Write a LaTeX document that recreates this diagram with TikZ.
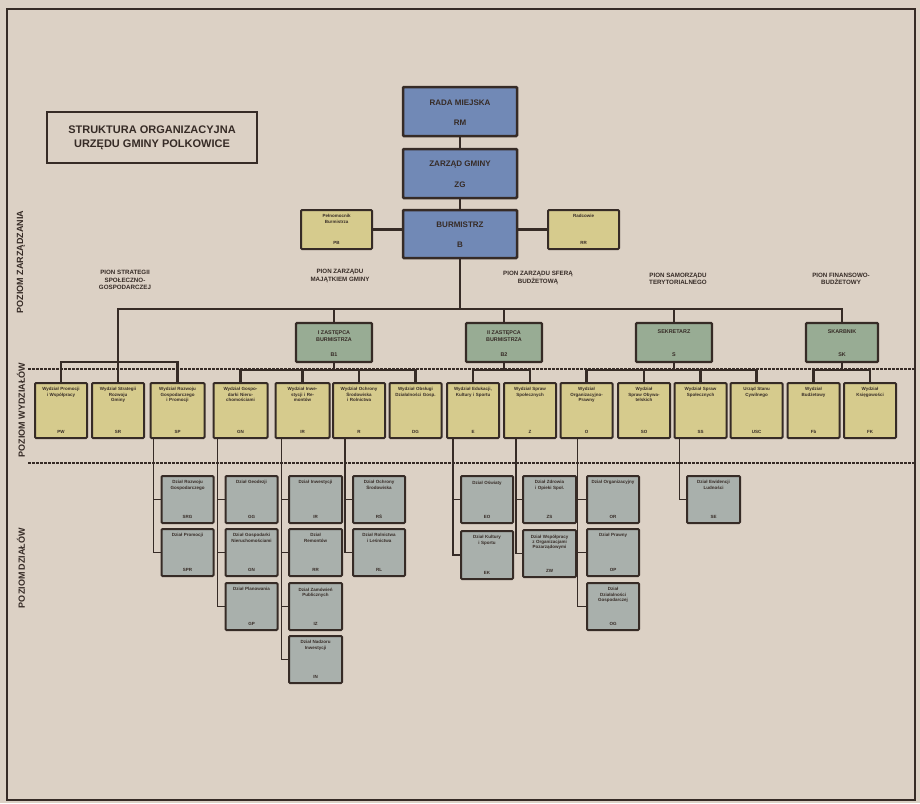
\documentclass[tikz,border=0pt]{standalone}
\usepackage{fontspec}
\setmainfont{Liberation Sans}
\definecolor{paper}{HTML}{DCD1C5}
\definecolor{ink}{HTML}{362B26}
\definecolor{bluefill}{HTML}{7189B6}
\definecolor{yelfill}{HTML}{D6CB8D}
\definecolor{grnfill}{HTML}{98AC94}
\definecolor{greyfill}{HTML}{A9B0AC}
\newcommand\obox[8]{%
  \node[#6, minimum width=#4pt, minimum height=#5pt] (#1) at (#2,#3) {};
  \node[smalltxt, anchor=north] (#1n) at ([yshift=-5.5pt]#1.north) {#7};
  \node[smalltxt, anchor=south] (#1c) at ([yshift=5pt]#1.south) {#8};
}
\begin{document}
\begin{tikzpicture}[x=1pt,y=-1pt,
  boxbase/.style={draw=ink, line width=2pt, rounded corners=1pt, inner sep=0pt},
  bluebox/.style={boxbase, fill=bluefill, line width=2.5pt},
  yelbox/.style={boxbase, fill=yelfill},
  grnbox/.style={boxbase, fill=grnfill, line width=2.3pt},
  greybox/.style={boxbase, fill=greyfill},
  smalltxt/.style={font=\bfseries\fontsize{4.5}{5.3}\selectfont, text=ink, align=center, inner sep=0pt, text width=49pt},
  bigtxt/.style={font=\bfseries\fontsize{8}{9}\selectfont, text=ink, align=center, inner sep=0pt},
  midtxt/.style={font=\bfseries\fontsize{5.4}{6.4}\selectfont, text=ink, align=center, inner sep=0pt},
  piontxt/.style={font=\bfseries\fontsize{6.2}{7.6}\selectfont, text=ink, align=center, inner sep=0pt},
  sidetxt/.style={font=\bfseries\fontsize{9}{10}\selectfont, text=ink, rotate=90, inner sep=0pt},
  conn/.style={draw=ink, line width=2.4pt},
  thin/.style={draw=ink, line width=1.5pt},
  dotline/.style={draw=ink, line width=1.1pt, dash pattern=on 2.5pt off 1.5pt}
]
\useasboundingbox (0,0) rectangle (920,803);
\fill[paper] (0,0) rectangle (920,803);
\draw[ink, line width=2.6pt] (7,9) rectangle (915,800);

% title
\node[draw=ink, line width=2.8pt, fill=paper, minimum width=210pt, minimum height=51pt,
      font=\bfseries\fontsize{11}{14}\selectfont, text=ink, align=center] (title) at (152,137.5)
      {STRUKTURA ORGANIZACYJNA\\URZĘDU GMINY POLKOWICE};

% side labels
\node[sidetxt] (sz) at (21,262) {POZIOM ZARZĄDZANIA};
\node[sidetxt] (sw) at (21,410) {POZIOM WYDZIAŁÓW};
\node[sidetxt] (sd) at (21,568) {POZIOM DZIAŁÓW};

% dotted level separators
\coordinate (d1l) at (28,369); \coordinate (d1r) at (914,369);
\coordinate (d2l) at (28,463); \coordinate (d2r) at (914,463);
\draw[dotline] (d1l) -- (d1r);
\draw[dotline] (d2l) -- (d2r);

% top level
\node[bluebox, minimum width=114pt, minimum height=49pt] (rm) at (460,111.5) {};
\node[bigtxt] (rmn) at (460,103) {RADA MIEJSKA};
\node[bigtxt] (rmc) at (460,123) {RM};
\node[bluebox, minimum width=114pt, minimum height=49pt] (zg) at (460,173.5) {};
\node[bigtxt] (zgn) at (460,165) {ZARZĄD GMINY};
\node[bigtxt] (zgc) at (460,185) {ZG};
\node[bluebox, minimum width=114pt, minimum height=48pt] (bur) at (460,234) {};
\node[bigtxt] (burn) at (460,225) {BURMISTRZ};
\node[bigtxt] (burc) at (460,245) {B};

\obox{pb}{336.5}{229.5}{71}{39}{yelbox}{Pełnomocnik\\Burmistrza}{PB}
\obox{rad}{583.5}{229.5}{71}{39}{yelbox}{Radcowie}{RR}

\draw[conn] (rm) -- (zg);
\draw[conn] (zg) -- (bur);
\draw[conn] (pb) -- (bur.west |- pb);
\draw[conn] (bur.east |- rad) -- (rad);

% pion labels
\node[piontxt] (p1) at (125,280) {PION STRATEGII\\SPOŁECZNO-\\GOSPODARCZEJ};
\node[piontxt] (p2) at (340,276) {PION ZARZĄDU\\MAJĄTKIEM GMINY};
\node[piontxt] (p3) at (538,278) {PION ZARZĄDU SFERĄ\\BUDŻETOWĄ};
\node[piontxt] (p4) at (678,279) {PION SAMORZĄDU\\TERYTORIALNEGO};
\node[piontxt] (p5) at (841,279) {PION FINANSOWO-\\BUDŻETOWY};

% deputies
\node[grnbox, minimum width=76pt, minimum height=39pt] (g1) at (334,342.5) {};
\node[midtxt] (g1n) at (334,336) {I ZASTĘPCA\\BURMISTRZA};
\node[midtxt] (g1c) at (334,355) {B1};
\node[grnbox, minimum width=76pt, minimum height=39pt] (g2) at (504,342.5) {};
\node[midtxt] (g2n) at (504,336) {II ZASTĘPCA\\BURMISTRZA};
\node[midtxt] (g2c) at (504,355) {B2};
\node[grnbox, minimum width=76pt, minimum height=39pt] (g3) at (674,342.5) {};
\node[midtxt] (g3n) at (674,332) {SEKRETARZ};
\node[midtxt] (g3c) at (674,355) {S};
\node[grnbox, minimum width=72pt, minimum height=39pt] (g4) at (842,342.5) {};
\node[midtxt] (g4n) at (842,332) {SKARBNIK};
\node[midtxt] (g4c) at (842,355) {SK};

% departments (wydziały)
\obox{y1}{61}{410.5}{52}{55}{yelbox}{Wydział Promocji\\i Współpracy}{PW}
\obox{y2}{118}{410.5}{52}{55}{yelbox}{Wydział Strategii\\Rozwoju\\Gminy}{SR}
\obox{y3}{177.5}{410.5}{54}{55}{yelbox}{Wydział Rozwoju\\Gospodarczego\\i Promocji}{SP}
\obox{y4}{240.5}{410.5}{54}{55}{yelbox}{Wydział Gospo-\\darki Nieru-\\chomościami}{GN}
\obox{y5}{302.5}{410.5}{54}{55}{yelbox}{Wydział Inwe-\\stycji i Re-\\montów}{IR}
\obox{y6}{359}{410.5}{52}{55}{yelbox}{Wydział Ochrony\\Środowiska\\i Rolnictwa}{R}
\obox{y7}{415.5}{410.5}{52}{55}{yelbox}{Wydział Obsługi\\Działalności Gosp.}{DG}
\obox{y8}{473}{410.5}{52}{55}{yelbox}{Wydział Edukacji,\\Kultury i Sportu}{E}
\obox{y9}{530}{410.5}{52}{55}{yelbox}{Wydział Spraw\\Społecznych}{Z}
\obox{y10}{586.5}{410.5}{52}{55}{yelbox}{Wydział\\Organizacyjno-\\Prawny}{O}
\obox{y11}{644}{410.5}{52}{55}{yelbox}{Wydział Spraw Obywa-\\telskich}{SO}
\obox{y12}{700.5}{410.5}{52}{55}{yelbox}{Wydział Spraw\\Społecznych}{SS}
\obox{y13}{756.5}{410.5}{52}{55}{yelbox}{Urząd Stanu\\Cywilnego}{USC}
\obox{y14}{813.5}{410.5}{52}{55}{yelbox}{Wydział\\Budżetowy}{Fb}
\obox{y15}{870}{410.5}{52}{55}{yelbox}{Wydział\\Księgowości}{FK}

% main tree
\coordinate (mb) at (460,309);
\coordinate (sb) at (118,362);
\draw[conn] (bur.south) -- (mb);
\draw[conn] (sb) |- (mb) -| (g4.north);
\draw[conn] (g1.north) |- (mb);
\draw[conn] (g2.north) |- (mb);
\draw[conn] (g3.north) |- (mb);
\draw[conn] (sb) -| (y1.north);
\draw[conn] (sb) -| (y3.north);
\draw[conn] (sb) -- (y2.north);

\coordinate (b1) at (334,370);
\coordinate (b2) at (504,370);
\coordinate (b3) at (674,370);
\coordinate (b4) at (842,370);
\draw[conn] (g1.south) -- (b1);
\draw[conn] (g2.south) -- (b2);
\draw[conn] (g3.south) -- (b3);
\draw[conn] (g4.south) -- (b4);
\foreach \t in {y4,y5,y6,y7} \draw[conn] (b1) -| (\t.north);
\foreach \t in {y8,y9} \draw[conn] (b2) -| (\t.north);
\foreach \t in {y10,y11,y12,y13} \draw[conn] (b3) -| (\t.north);
\foreach \t in {y14,y15} \draw[conn] (b4) -| (\t.north);

% sections (działy)
\obox{d1a}{187.5}{499.5}{52}{47}{greybox}{Dział Rozwoju\\Gospodarczego}{SRG}
\obox{d1b}{187.5}{552.5}{52}{47}{greybox}{Dział Promocji}{SPR}
\obox{d2a}{251.5}{499.5}{52}{47}{greybox}{Dział Geodezji}{GG}
\obox{d2b}{251.5}{552.5}{52}{47}{greybox}{Dział Gospodarki\\Nieruchomościami}{GN}
\obox{d2c}{251.5}{606.5}{52}{47}{greybox}{Dział Planowania}{GP}
\obox{d3a}{315.5}{499.5}{53}{47}{greybox}{Dział Inwestycji}{IR}
\obox{d3b}{315.5}{552.5}{53}{47}{greybox}{Dział\\Remontów}{RR}
\obox{d3c}{315.5}{606.5}{53}{47}{greybox}{Dział Zamówień\\Publicznych}{IZ}
\obox{d3d}{315.5}{659.5}{53}{47}{greybox}{Dział Nadzoru\\Inwestycji}{IN}
\obox{d4a}{379}{499.5}{52}{47}{greybox}{Dział Ochrony\\Środowiska}{RŚ}
\obox{d4b}{379}{552.5}{52}{47}{greybox}{Dział Rolnictwa\\i Leśnictwa}{RL}
\obox{dAa}{487}{499.5}{52}{47}{greybox}{Dział Oświaty}{EO}
\obox{dAb}{487}{555}{52}{48}{greybox}{Dział Kultury\\i Sportu}{EK}
\obox{dBa}{549.5}{499.5}{53}{47}{greybox}{Dział Zdrowia\\i Opieki Społ.}{ZS}
\obox{dBb}{549.5}{553.5}{53}{47}{greybox}{Dział Współpracy\\z Organizacjami\\Pozarządowymi}{ZW}
\obox{dCa}{613}{499.5}{52}{47}{greybox}{Dział Organizacyjny}{OR}
\obox{dCb}{613}{552.5}{52}{47}{greybox}{Dział Prawny}{OP}
\obox{dCc}{613}{606.5}{52}{47}{greybox}{Dział\\Działalności\\Gospodarczej}{OG}
\obox{dDa}{713.5}{499.5}{53}{47}{greybox}{Dział Ewidencji\\Ludności}{SE}

\foreach \t in {d1a,d1b} \draw[thin] ([xshift=4pt]y3.south west) |- (\t.west);
\foreach \t in {d2a,d2b,d2c} \draw[thin] ([xshift=5pt]y4.south west) |- (\t.west);
\foreach \t in {d3a,d3b,d3c,d3d} \draw[thin] ([xshift=7pt]y5.south west) |- (\t.west);
\foreach \t in {d4a,d4b} \draw[thin] ([xshift=13pt]y6.south west) |- (\t.west);
\foreach \t in {dAa,dAb} \draw[thin] ([xshift=7pt]y8.south west) |- (\t.west);
\foreach \t in {dBa,dBb} \draw[thin] ([xshift=13pt]y9.south west) |- (\t.west);
\foreach \t in {dCa,dCb,dCc} \draw[thin] ([xshift=18pt]y10.south west) |- (\t.west);
\foreach \t in {dDa} \draw[thin] ([xshift=6pt]y12.south west) |- (\t.west);
\end{tikzpicture}
\end{document}
